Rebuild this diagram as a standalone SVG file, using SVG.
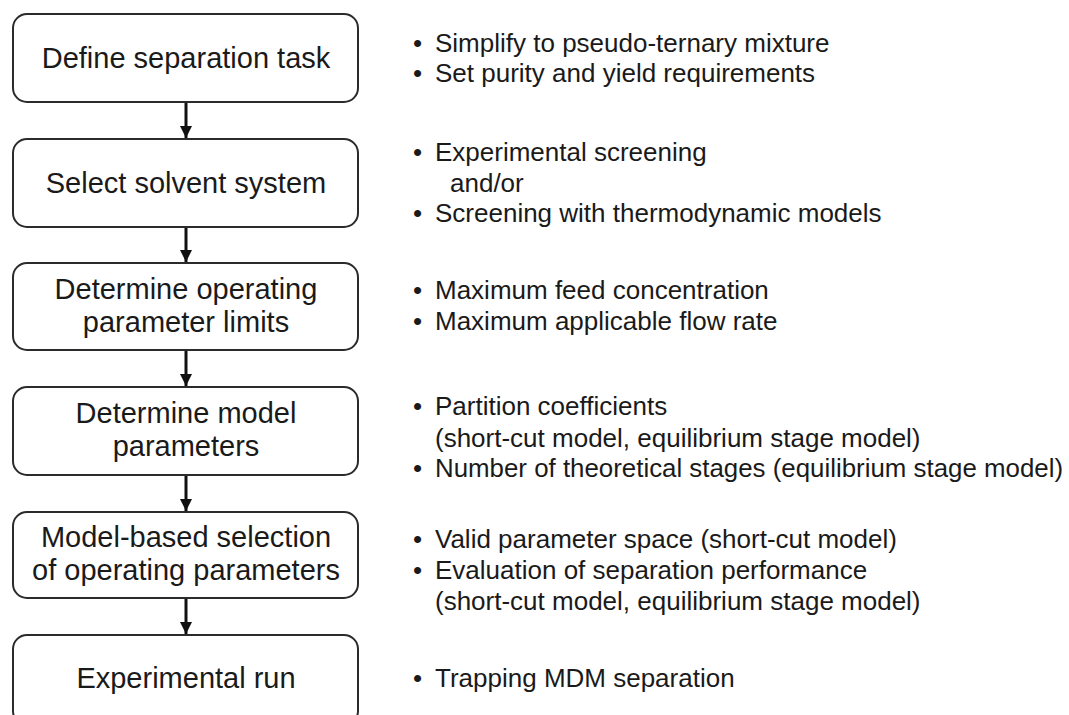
<svg xmlns="http://www.w3.org/2000/svg" width="1069" height="715" viewBox="0 0 1069 715">
<style>
.box{fill:#fff;stroke:#2b2b2b;stroke-width:2}
.bt{font-family:"Liberation Sans",Arial,sans-serif;font-size:29px;fill:#1a1a1a;text-anchor:middle}
.tx{font-family:"Liberation Sans",Arial,sans-serif;font-size:26px;fill:#1a1a1a}
.conn line{stroke:#111;stroke-width:3}
</style>
<defs>
<marker id="ah" viewBox="0 0 12 12" refX="12" refY="6" markerWidth="12" markerHeight="12" markerUnits="userSpaceOnUse" orient="auto">
<path d="M0,0 L12,6 L0,12 Z" fill="#111"/>
</marker>
</defs>
<rect width="1069" height="715" fill="#fff"/>
<g id="connectors" class="conn">
<line x1="186" y1="103" x2="186" y2="138" marker-end="url(#ah)"/>
<line x1="186" y1="228" x2="186" y2="262" marker-end="url(#ah)"/>
<line x1="186" y1="351" x2="186" y2="386" marker-end="url(#ah)"/>
<line x1="186" y1="476" x2="186" y2="511" marker-end="url(#ah)"/>
<line x1="186" y1="599" x2="186" y2="634" marker-end="url(#ah)"/>
</g>
<g id="n1"><rect class="box" x="13" y="14" width="345" height="88" rx="14"/><text class="bt" x="186" y="68">Define separation task</text></g>
<g id="n2"><rect class="box" x="13" y="139" width="345" height="88" rx="14"/><text class="bt" x="186" y="193">Select solvent system</text></g>
<g id="n3"><rect class="box" x="13" y="263" width="345" height="87" rx="14"/><text class="bt" x="186" y="299">Determine operating</text><text class="bt" x="186" y="332">parameter limits</text></g>
<g id="n4"><rect class="box" x="13" y="387" width="345" height="88" rx="14"/><text class="bt" x="186" y="423">Determine model</text><text class="bt" x="186" y="456">parameters</text></g>
<g id="n5"><rect class="box" x="13" y="512" width="345" height="86" rx="14"/><text class="bt" x="186" y="547">Model-based selection</text><text class="bt" x="186" y="580">of operating parameters</text></g>
<g id="n6"><rect class="box" x="13" y="635" width="345" height="90" rx="14"/><text class="bt" x="186" y="688">Experimental run</text></g>
<g id="notes" class="tx">
<text x="413" y="52">•</text><text x="435" y="52">Simplify to pseudo-ternary mixture</text>
<text x="413" y="82">•</text><text x="435" y="82">Set purity and yield requirements</text>
<text x="413" y="161">•</text><text x="435" y="161">Experimental screening</text>
<text x="450" y="192">and/or</text>
<text x="413" y="222">•</text><text x="435" y="222">Screening with thermodynamic models</text>
<text x="413" y="299">•</text><text x="435" y="299">Maximum feed concentration</text>
<text x="413" y="330">•</text><text x="435" y="330">Maximum applicable flow rate</text>
<text x="413" y="415">•</text><text x="435" y="415">Partition coefficients</text>
<text x="435" y="447">(short-cut model, equilibrium stage model)</text>
<text x="413" y="477">•</text><text x="435" y="477" textLength="628" lengthAdjust="spacingAndGlyphs">Number of theoretical stages (equilibrium stage model)</text>
<text x="413" y="548">•</text><text x="435" y="548">Valid parameter space (short-cut model)</text>
<text x="413" y="579">•</text><text x="435" y="579">Evaluation of separation performance</text>
<text x="435" y="610">(short-cut model, equilibrium stage model)</text>
<text x="413" y="687">•</text><text x="435" y="687">Trapping MDM separation</text>
</g>
</svg>
